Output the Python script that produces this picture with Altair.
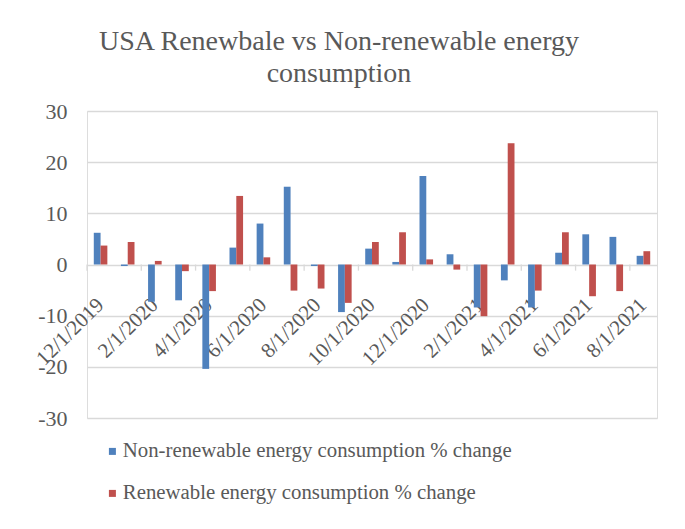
import altair as alt
import pandas as pd

months = ["12/1/2019", "1/1/2020", "2/1/2020", "3/1/2020", "4/1/2020", "5/1/2020",
          "6/1/2020", "7/1/2020", "8/1/2020", "9/1/2020", "10/1/2020", "11/1/2020",
          "12/1/2020", "1/1/2021", "2/1/2021", "3/1/2021", "4/1/2021", "5/1/2021",
          "6/1/2021", "7/1/2021", "8/1/2021"]
non_renewable = [6.2, -0.3, -7.3, -7.0, -20.4, 3.3, 8.0, 15.2, -0.3, -9.3, 3.1, 0.5,
                 17.3, 2.0, -8.4, -3.1, -8.4, 2.3, 5.9, 5.4, 1.7]
renewable = [3.7, 4.4, 0.7, -1.3, -5.2, 13.4, 1.4, -5.1, -4.7, -7.5, 4.4, 6.3,
             1.0, -1.0, -10.1, 23.7, -5.1, 6.3, -6.2, -5.2, 2.6]
series_names = ["Non-renewable energy consumption % change",
                "Renewable energy consumption % change"]
colors = ["#4f81bd", "#c0504d"]
y_ticks = [-30, -20, -10, 0, 10, 20, 30]
labeled = months[::2]

rows = []
for m, a, b in zip(months, non_renewable, renewable):
    rows.append({"month": m, "series": series_names[0], "value": a})
    rows.append({"month": m, "series": series_names[1], "value": b})
df = pd.DataFrame(rows)
ticks_df = pd.DataFrame({"month": labeled})

FONT = "Times New Roman, Liberation Serif, serif"
GRAY = "#595959"

x_enc_axis = alt.Axis(values=labeled, labelAngle=-45, labelFontSize=21, labelFont=FONT,
                      labelColor=GRAY, ticks=False, domain=False, offset=-153.5,
                      labelAlign="right", labelBaseline="middle",
                      labelPadding=37, title=None, labelOverlap=False, grid=False)
y_axis = alt.Axis(values=y_ticks, labelFontSize=22, labelFont=FONT,
                  labelColor=GRAY, ticks=False, domain=False, grid=True,
                  gridColor="#d9d9d9", gridWidth=1.3, labelPadding=20, title=None,
                  labelExpr="'' + datum.value")
x_scale = alt.Scale(paddingInner=0, paddingOuter=0)
y_scale = alt.Scale(domain=[-30, 30], nice=False)

bars = alt.Chart(df).mark_bar().encode(
    x=alt.X("month:N", sort=months, scale=x_scale, axis=x_enc_axis),
    xOffset=alt.XOffset("series:N", sort=series_names,
                        scale=alt.Scale(paddingOuter=1, paddingInner=0)),
    y=alt.Y("value:Q", scale=y_scale, axis=y_axis),
    color=alt.Color("series:N", sort=series_names,
                    scale=alt.Scale(domain=series_names, range=colors),
                    legend=alt.Legend(orient="none", legendX=15, legendY=330, title=None,
                                      direction="vertical", labelFont=FONT, labelFontSize=20.8,
                                      labelColor=GRAY, symbolType="square", symbolSize=49,
                                      symbolStrokeWidth=0, rowPadding=20, labelOffset=0,
                                      labelLimit=600)),
)

ticks = alt.Chart(ticks_df).mark_rule(color="#d9d9d9", strokeWidth=1.3).encode(
    x=alt.X("month:N", sort=months, scale=x_scale, axis=x_enc_axis, bandPosition=0),
    y=alt.datum(0, scale=y_scale, axis=y_axis),
    y2=alt.datum(-1.2),
)

chart = alt.layer(bars, ticks).properties(
    width=570, height=307,
    padding={"left": 79, "top": 103, "right": 20, "bottom": 95},
    autosize=alt.AutoSizeParams(type="none"),
    title=alt.TitleParams(["USA Renewbale vs Non-renewable energy", "consumption"],
                          font=FONT, fontSize=28, fontWeight="normal", color=GRAY,
                          anchor="middle", dx=-33, offset=12, lineHeight=32.5),
).configure_view(stroke=None).configure(background="white")

chart.save("out.html", embed_options={"renderer": "svg", "actions": False})
